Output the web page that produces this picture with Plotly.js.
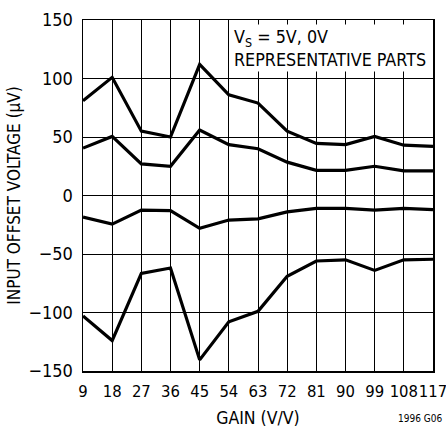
<!DOCTYPE html>
<html><head><meta charset="utf-8">
<script src="https://cdn.plot.ly/plotly-3.0.1.min.js"></script>
<style>html,body{margin:0;padding:0;background:#fff}</style>
</head><body>
<div id="chart" style="width:446px;height:428px"></div>
<script>
const gain = [9, 18, 27, 36, 45, 54, 63, 72, 81, 90, 99, 108, 117];
const part1 = [81, 101, 55, 50, 112, 86, 79, 55, 44.5, 43.5, 50.5, 43, 42];
const part2 = [40.5, 50.5, 27, 25, 56, 43.5, 40, 28.5, 21.5, 21.5, 25, 21, 21];
const part3 = [-18.5, -24.5, -12.5, -13, -28, -21, -20, -14, -11, -11, -12.5, -11, -12];
const part4 = [-103, -124, -66.5, -62, -140.5, -108, -99, -69, -56, -55, -64, -55, -54.5];
const yTicks = [-150, -100, -50, 0, 50, 100, 150];

const FONT = '"Liberation Sans Narrow", "Arial Narrow", "DejaVu Sans Condensed", sans-serif';
const mk = y => ({x: gain, y: y, type: 'scatter', mode: 'lines',
  line: {color: '#000', width: 3.2}, hoverinfo: 'none', cliponaxis: false});

const data = [mk(part1), mk(part2), mk(part3), mk(part4)];
const layout = {
  width: 446, height: 428,
  margin: {l: 83, r: 13, t: 20, b: 57},
  showlegend: false,
  paper_bgcolor: '#fff', plot_bgcolor: '#fff',
  font: {family: FONT, size: 17, color: '#000'},
  xaxis: {
    range: [9, 117], tickvals: gain, ticktext: gain.map(String),
    showgrid: true, gridcolor: '#000', gridwidth: 1,
    showline: true, linecolor: '#000', linewidth: 1.5, mirror: true,
    ticks: '', zeroline: false, fixedrange: true, tickangle: 0,
    ticklabeloverflow: 'allow', ticklabelstandoff: 5,
    tickfont: {family: FONT, size: 16.5},
    title: {text: 'GAIN (V/V)', font: {family: FONT, size: 17.5}, standoff: 12}
  },
  yaxis: {
    range: [-150, 150], tickvals: yTicks,
    showgrid: true, gridcolor: '#000', gridwidth: 1,
    showline: true, linecolor: '#000', linewidth: 1.5, mirror: true,
    ticks: '', zeroline: false, fixedrange: true,
    ticklabelstandoff: 5,
    tickfont: {family: FONT, size: 18},
    title: {text: 'INPUT OFFSET VOLTAGE (μV)', font: {family: FONT, size: 17}, standoff: 3}
  },
  annotations: [
    {xref: 'paper', yref: 'paper', x: 0.425, y: 0.99, xanchor: 'left', yanchor: 'top',
     text: 'V<sub>S</sub> = 5V, 0V<br>REPRESENTATIVE PARTS', align: 'left', showarrow: false,
     bgcolor: '#fff', borderpad: 1, font: {family: FONT, size: 17.8, color: '#000'}},
    {xref: 'paper', yref: 'paper', x: 1.03, y: -0.135, xanchor: 'right', yanchor: 'middle',
     text: '1996 G06', showarrow: false, font: {family: FONT, size: 10, color: '#000'}}
  ]
};
Plotly.newPlot('chart', data, layout, {staticPlot: true, displayModeBar: false});
</script>
</body></html>
